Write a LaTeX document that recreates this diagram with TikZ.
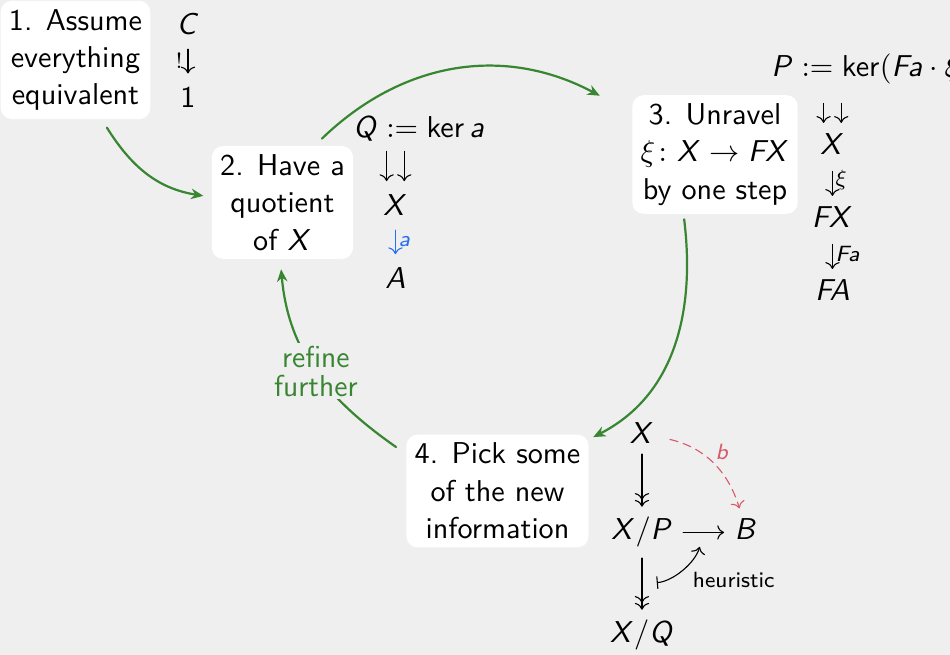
\documentclass[tikz,border=0pt,11pt]{standalone}
\usepackage{amsmath,amssymb}
\usepackage{xcolor}
\usepackage{tikz}
\usetikzlibrary{arrows.meta,positioning}

\renewcommand{\familydefault}{\sfdefault}
\DeclareMathAlphabet{\mathsfsl}{OT1}{cmss}{m}{sl}
\newcommand{\ms}[1]{\mathsfsl{#1}}

\definecolor{bgc}{RGB}{239,239,239}
\definecolor{loopgreen}{RGB}{56,134,49}
\definecolor{mapred}{RGB}{214,90,105}
\definecolor{mapblue}{RGB}{40,110,240}

\begin{document}
\begin{tikzpicture}[>=To, line cap=round, line join=round,
    box/.style={fill=white, rounded corners=4pt, align=center, inner sep=3pt},
    loop/.style={thick, draw=loopgreen, -{Stealth[length=4.5pt,width=3.8pt]}},
    glyph/.style={->, shorten <=1.5pt, shorten >=1pt},
    lbl/.style={font=\scriptsize, inner sep=1pt}]
		\fill[bgc] (0,0) rectangle (12.12,-8.356);
		\useasboundingbox (0,0) rectangle (12.12,-8.356);
		
		% the four steps
		\node[box] (b1) at (0.963,-0.765) {1. Assume\\everything\\equivalent};
		\node[box] (b2) at (3.604,-2.583) {2. Have a\\quotient\\of $\ms{X}$};
		\node[box] (b3) at (9.122,-1.971) {3. Unravel\\$\xi\colon \ms{X}\to\ms{FX}$\\by one step};
		\node[box] (b4) at (6.347,-6.264) {4. Pick some\\of the new\\information};
		
		\draw[loop] ([xshift=11.4pt,yshift=-2.9pt]b1.south) to[out=-58,in=171] ([xshift=-2.9pt,yshift=2.4pt]b2.west);
		\draw[loop] ([xshift=14.3pt,yshift=2.5pt]b2.north) to[out=44,in=152] ([xshift=-11.6pt,yshift=-0.4pt]b3.north west);
		\draw[loop] ([xshift=-11.2pt,yshift=-1.8pt]b3.south) to[out=-83,in=27] ([xshift=1.5pt,yshift=-1.1pt]b4.north east);
		\draw[loop] ([xshift=-3.6pt,yshift=-4.7pt]b4.north west) to[out=145,in=-85]
			node[fill=bgc, text=loopgreen, align=center, inner sep=1pt, font=\fontsize{11}{10.5}\selectfont] {refine\\further}
			([xshift=-0.5pt,yshift=-3.6pt]b2.south);
		
		% step 1
		\node (c1) at (2.398,-0.306) {$\ms{C}$};
		\node (c2) at (2.398,-1.238) {1};
		\draw[glyph] (c1) -- node[lbl, left, xshift=-0.8pt] {$!$} (c2);
		
		% step 2
		\node[anchor=base west] (qk) at (4.374,-1.748) {$\ms{Q} := \mathop{\mathsf{ker}}\ms{a}$};
		\node (qx) at (5.045,-2.615) {$\ms{X}$};
		\node (qa) at (5.045,-3.547) {$\ms{A}$};
		\coordinate (qt) at (qk.south -| qx);
		\foreach \s in {-3.2pt,3.2pt}
			\draw[glyph, shorten <=0pt] ([xshift=\s]qt) -- ([xshift=\s]qx.north);
		\draw[glyph, mapblue] (qx) -- node[lbl,right] {$\ms{a}$} (qa);
		
		% step 3
		\node[anchor=base west] (pk) at (9.707,-0.982) {$\ms{P} := \mathsf{ker}(\ms{Fa}\cdot\xi)$};
		\node (px) at (10.620,-1.837) {$\ms{X}$};
		\node (pfx) at (10.620,-2.768) {$\ms{FX}$};
		\node (pfa) at (10.620,-3.700) {$\ms{FA}$};
		\coordinate (pt) at (pk.south -| px);
		\foreach \s in {-3.2pt,3.2pt}
			\draw[glyph, shorten <=3pt, shorten >=0pt] ([xshift=\s]pt) -- ([xshift=\s]px.north);
		\draw[glyph, shorten <=2.3pt, shorten >=0pt] (px) -- node[lbl,right] {$\xi$} (pfx);
		\draw[glyph, shorten <=2.3pt, shorten >=0pt] (pfx) -- node[lbl,right] {$\ms{Fa}$} (pfa);
		
		% step 4
		\node[anchor=base] (dx) at (8.190,-5.658) {$\ms{X}$};
		\node[anchor=base] (dxp) at (8.190,-6.889) {$\ms{X}/\ms{P}$};
		\node[anchor=base] (dB) at (9.517,-6.889) {$\ms{B}$};
		\node[anchor=base] (dxq) at (8.190,-8.203) {$\ms{X}/\ms{Q}$};
		\draw[->>] (dx) -- (dxp);
		\draw[->>] (dxp) -- coordinate (mv) (dxq);
		\draw[->] (dxp.east) -- coordinate (mh) (dxp.east -| dB.west);
		\draw[->, mapred, dash pattern=on 3pt off 2pt, shorten <=2pt] (dx) to[bend left=30]
			node[lbl, above right] {$\ms{b}$} (dB);
		\draw[|->, shorten <=5.4pt, shorten >=5.4pt] (mv) to[bend right=35]
			node[lbl, anchor=north west, xshift=3pt] {heuristic} (mh);
	\end{tikzpicture}
\end{document}
